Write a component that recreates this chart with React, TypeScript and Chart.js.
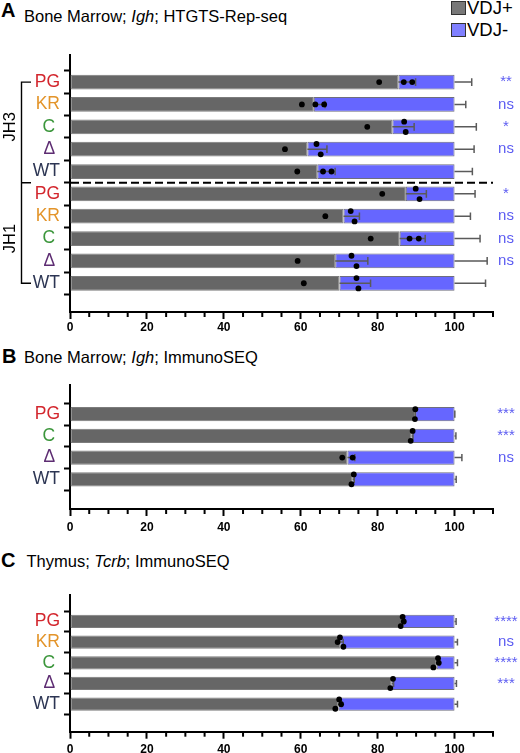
import { useEffect, useRef } from "react"
import { Chart, registerables } from "chart.js"

Chart.register(...registerables)

const FONT = "'Liberation Sans', Arial, Helvetica, sans-serif"

// x axis labels shared by all three panels (axis runs on to 110)
const xTickLabels = [0, 20, 40, 60, 80, 100]

// Panel A: Bone Marrow; Igh; HTGTS-Rep-seq (JH3 block on top, JH1 below)
const panelALabels = ["PG", "KR", "C ", "Δ ", "WT", "PG", "KR", "C ", "Δ ", "WT"]
const panelAPoints = [
  [80.4, 86.8, 89.0],
  [60.3, 63.8, 66.1],
  [77.3, 86.9, 87.3],
  [55.9, 64.1, 65.2],
  [59.1, 65.8, 68.0],
  [81.2, 89.9, 90.9],
  [66.4, 73.0, 74.0],
  [78.2, 88.3, 90.7],
  [59.2, 73.2, 74.5],
  [60.8, 74.5, 75.0],
]
const panelASig = ["**", "ns", "*", "ns", "", "*", "ns", "ns", "ns", ""]
const panelAGroups = ["JH3", "JH1"]

// Panel B: Bone Marrow; Igh; ImmunoSEQ
const panelBLabels = ["PG", "C ", "Δ ", "WT"]
const panelBPoints = [
  [89.8, 89.7],
  [89.1, 88.6],
  [70.8, 73.5],
  [73.8, 73.2],
]
const panelBSig = ["***", "***", "ns", ""]

// Panel C: Thymus; Tcrb; ImmunoSEQ
const panelCLabels = ["PG", "KR", "C ", "Δ ", "WT"]
const panelCPoints = [
  [86.5, 86.8, 86.0],
  [70.2, 69.6, 71.1],
  [95.7, 95.9, 94.5],
  [84.0, 83.3],
  [70.0, 70.5, 69.0],
]
const panelCSig = ["****", "ns", "****", "***", ""]

const labelColors: Record<string, string> = {
  PG: "#d3262d",
  KR: "#e3942a",
  C: "#3b963b",
  "Δ": "#5d2c72",
  WT: "#2c3553",
}

const mean = (a: number[]) => a.reduce((s, v) => s + v, 0) / a.length
const sd = (a: number[]) => {
  const m = mean(a)
  return Math.sqrt(a.reduce((s, v) => s + (v - m) ** 2, 0) / (a.length - 1))
}

// vertical spread for dots that would overlap (placed in data order, top to bottom)
function spread(values: number[], px: (v: number) => number, dotD: number, h: number) {
  const order = values.map((_, i) => i).sort((a, b) => values[a] - values[b])
  const cluster: number[] = []
  let c = 0
  order.forEach((idx, k) => {
    if (k > 0 && Math.abs(px(values[idx]) - px(values[order[k - 1]])) >= dotD) c++
    cluster[idx] = c
  })
  return values.map((_, i) => {
    const n = cluster.filter((x) => x === cluster[i]).length
    if (n < 2) return 0
    const rank = cluster.slice(0, i).filter((x) => x === cluster[i]).length
    return (rank - (n - 1) / 2) * ((0.7 * h) / (n - 1))
  })
}

interface PanelProps {
  labels: string[]
  points: number[][]
  sig: string[]
  top: number
  height: number
  padTop: number
  axisHeight: number
  yMin: number
  yMax: number
  barPct: number
  tickPad: number
  groups?: string[]
}

function BarPanel(p: PanelProps) {
  const chartRef = useRef<HTMLCanvasElement>(null)
  const chartInstance = useRef<Chart | null>(null)

  useEffect(() => {
    if (!chartRef.current) return
    if (chartInstance.current) chartInstance.current.destroy()
    const ctx = chartRef.current.getContext("2d")
    if (!ctx) return

    const means = p.points.map(mean)

    const overlay = {
      id: "overlay",
      afterDatasetsDraw(chart: any) {
        const c = chart.ctx
        const xs = chart.scales.x
        const ys = chart.scales.y
        const meta = chart.getDatasetMeta(0)
        const { left, right } = chart.chartArea

        p.points.forEach((vals, i) => {
          const bar = meta.data[i]
          const y = bar.y
          const h = bar.height
          const m = means[i]
          const s = sd(vals)
          const cap = h * 0.26
          c.save()
          // error bars: VDJ+ at its mean, VDJ- at the stack end
          c.strokeStyle = "#5a5a5a"
          c.lineWidth = 1.5
          ;[m, 100].forEach((base) => {
            const x0 = xs.getPixelForValue(base)
            const x1 = xs.getPixelForValue(base + s)
            c.beginPath()
            c.moveTo(x0, y)
            c.lineTo(x1, y)
            c.moveTo(x1, y - cap)
            c.lineTo(x1, y + cap)
            c.stroke()
          })
          // individual mice
          const offs = spread(vals, (v) => xs.getPixelForValue(v), 6, h)
          c.fillStyle = "#000"
          vals.forEach((v, k) => {
            c.beginPath()
            c.arc(xs.getPixelForValue(v), y + offs[k], 2.9, 0, Math.PI * 2)
            c.fill()
          })
          // significance
          if (p.sig[i]) {
            c.fillStyle = "#5c5cf2"
            c.font = `15px ${FONT}`
            c.textAlign = "center"
            c.textBaseline = "middle"
            c.fillText(p.sig[i], 506, y)
          }
          c.restore()
        })

        // minor x ticks every 5
        c.save()
        c.strokeStyle = "#000"
        c.lineWidth = 2
        for (let v = 5; v <= 110; v += 5) {
          if (xTickLabels.includes(v)) continue
          const x = xs.getPixelForValue(v)
          c.beginPath()
          c.moveTo(x, xs.top)
          c.lineTo(x, xs.top + 5)
          c.stroke()
        }
        c.restore()

        if (p.groups) {
          const n = p.labels.length / 2
          const mid = ys.getPixelForValue(n - 0.5)
          // dashed divider between the two JH blocks
          c.save()
          c.strokeStyle = "#000"
          c.lineWidth = 2
          c.setLineDash([8, 4])
          c.beginPath()
          c.moveTo(left + 1, mid)
          c.lineTo(right, mid)
          c.stroke()
          c.setLineDash([])
          // brackets
          const bx = 21.5
          const yTop = ys.getPixelForValue(0)
          const yBot = ys.getPixelForValue(p.labels.length - 1)
          c.lineWidth = 1.4
          c.beginPath()
          c.moveTo(bx + 9.5, yTop)
          c.lineTo(bx, yTop)
          c.lineTo(bx, yBot)
          c.lineTo(bx + 9.5, yBot)
          c.moveTo(bx, mid)
          c.lineTo(bx + 9.5, mid)
          c.stroke()
          c.fillStyle = "#000"
          c.font = `16.5px ${FONT}`
          c.textAlign = "center"
          c.textBaseline = "middle"
          p.groups.forEach((g, gi) => {
            c.save()
            c.translate(10, ys.getPixelForValue(gi * n + (n - 1) / 2))
            c.rotate(-Math.PI / 2)
            c.fillText(g, 0, 0)
            c.restore()
          })
          c.restore()
        }
      },
    }

    chartInstance.current = new Chart(ctx, {
      type: "bar",
      data: {
        datasets: [
          {
            label: "VDJ+",
            data: means.map((m, i) => ({ x: m, y: i })),
            backgroundColor: "#666666",
            borderColor: "#7c7c7c",
            borderWidth: 1,
            borderSkipped: false,
            barPercentage: p.barPct,
            categoryPercentage: 1,
          },
          {
            label: "VDJ-",
            data: means.map((m, i) => ({ x: 100 - m, y: i })),
            backgroundColor: "#6666ff",
            borderColor: "#6e6e7e",
            borderWidth: 1,
            borderSkipped: false,
            barPercentage: p.barPct,
            categoryPercentage: 1,
          },
        ],
      },
      options: {
        indexAxis: "y",
        animation: false,
        responsive: false,
        layout: { padding: { top: p.padTop, right: 27, left: 0, bottom: 0 } },
        plugins: { legend: { display: false }, tooltip: { enabled: false } },
        scales: {
          x: {
            type: "linear",
            min: 0,
            max: 110,
            stacked: true,
            afterBuildTicks: (scale: any) => {
              scale.ticks = xTickLabels.map((v) => ({ value: v }))
            },
            afterFit: (scale: any) => {
              scale.height = p.axisHeight
            },
            ticks: {
              padding: p.tickPad,
              autoSkip: false,
              maxRotation: 0,
              color: "#000",
              font: { family: FONT, size: 12, weight: "bold" },
            },
            grid: { drawOnChartArea: false, tickLength: 7, tickWidth: 2, tickColor: "#000" },
            border: { color: "#000", width: 2 },
          },
          y: {
            type: "linear",
            reverse: true,
            min: p.yMin,
            max: p.yMax,
            stacked: true,
            afterBuildTicks: (scale: any) => {
              scale.ticks = p.labels.map((_, i) => ({ value: i }))
            },
            afterFit: (scale: any) => {
              scale.width = 70
            },
            ticks: {
              autoSkip: false,
              padding: 4,
              font: { family: FONT, size: 17.5 },
              color: (c: any) => labelColors[(p.labels[c.index] || "").trim()] || "#000",
              callback: (v: any) => p.labels[v as number],
            },
            grid: { drawOnChartArea: false, tickLength: 6, tickWidth: 2, tickColor: "#000" },
            border: { color: "#000", width: 2 },
          },
        },
      } as any,
      plugins: [overlay],
    })

    return () => {
      if (chartInstance.current) {
        chartInstance.current.destroy()
        chartInstance.current = null
      }
    }
  }, [])

  return (
    <canvas
      ref={chartRef}
      width={520}
      height={p.height}
      style={{ position: "absolute", left: 0, top: p.top, width: 520, height: p.height }}
    />
  )
}

function Label({ x, base, size, bold, children }: { x: number; base: number; size: number; bold?: boolean; children: any }) {
  return (
    <div
      style={{
        position: "absolute",
        left: x,
        top: base - 0.8465 * size,
        fontFamily: FONT,
        fontSize: size,
        lineHeight: `${size}px`,
        fontWeight: bold ? "bold" : "normal",
        whiteSpace: "nowrap",
        color: "#000",
      }}
    >
      {children}
    </div>
  )
}

function Swatch({ top, color }: { top: number; color: string }) {
  return (
    <div
      style={{
        position: "absolute",
        left: 451,
        top,
        width: 15,
        height: 14,
        boxSizing: "border-box",
        border: "1.5px solid #333",
        background: color,
      }}
    />
  )
}

export default function App() {
  return (
    <div style={{ position: "absolute", left: 0, top: 0, width: 520, height: 753, background: "#fff", overflow: "hidden" }}>
      <Label x={1} base={17} size={20} bold>A</Label>
      <Label x={24} base={22} size={16.5}>
        Bone Marrow; <i>Igh</i>; HTGTS-Rep-seq
      </Label>
      <Swatch top={1} color="#787878" />
      <Label x={467} base={15} size={18.5}>VDJ+</Label>
      <Swatch top={23} color="#8080ff" />
      <Label x={467} base={36.7} size={18.5}>VDJ-</Label>

      <BarPanel
        labels={panelALabels}
        points={panelAPoints}
        sig={panelASig}
        groups={panelAGroups}
        top={40}
        height={300}
        padTop={5}
        axisHeight={28}
        yMin={-0.66}
        yMax={9.71}
        barPct={0.66}
        tickPad={1}
      />

      <Label x={2} base={363.3} size={20} bold>B</Label>
      <Label x={24} base={363} size={16.5}>
        Bone Marrow; <i>Igh</i>; ImmunoSEQ
      </Label>
      <BarPanel
        labels={panelBLabels}
        points={panelBPoints}
        sig={panelBSig}
        top={370}
        height={165}
        padTop={7}
        axisHeight={26}
        yMin={-0.65}
        yMax={3.65}
        barPct={0.65}
        tickPad={4}
      />

      <Label x={1} base={566.7} size={20} bold>C</Label>
      <Label x={26.5} base={566.7} size={16.5}>
        Thymus; <i>Tcrb</i>; ImmunoSEQ
      </Label>
      <BarPanel
        labels={panelCLabels}
        points={panelCPoints}
        sig={panelCSig}
        top={580}
        height={173}
        padTop={8.3}
        axisHeight={21.3}
        yMin={-0.64}
        yMax={4.67}
        barPct={0.64}
        tickPad={4}
      />
    </div>
  )
}
